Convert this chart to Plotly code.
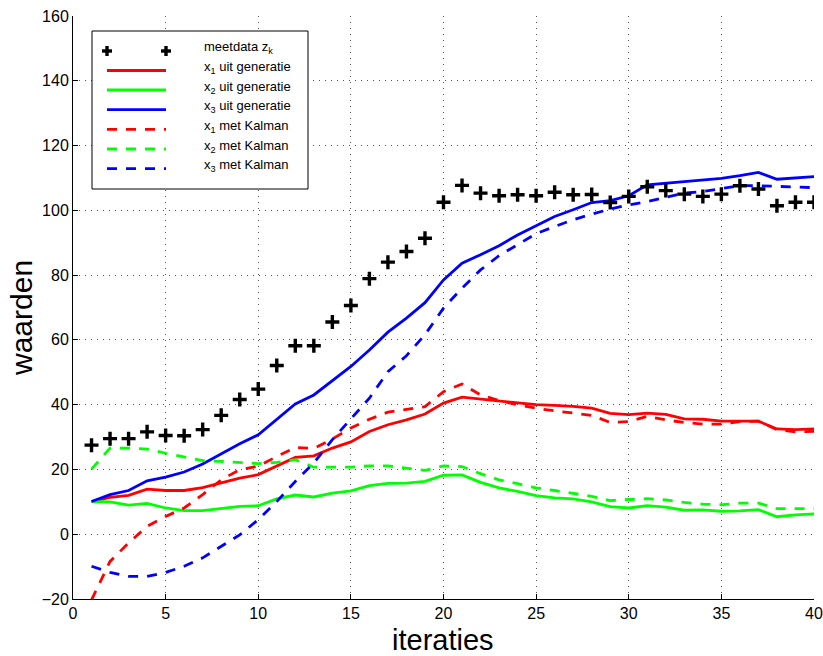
import plotly.graph_objects as go

# iteration index
iters = list(range(1, 41))

# measured data z_k
meetdata = [27.5, 29.5, 29.5, 31.6, 30.5, 30.4, 32.3, 36.7, 41.6, 44.8,
            52.1, 58.2, 58.2, 65.5, 70.6, 78.9, 84.0, 87.3, 91.4, 102.5,
            107.7, 105.3, 104.5, 104.8, 104.5, 105.6, 104.8, 104.9, 102.4, 104.3,
            107.3, 106.1, 105.0, 104.3, 105.0, 107.6, 106.6, 101.4, 102.5, 102.5]

# generated states
x1_gen = [10.1, 11.4, 12.0, 13.9, 13.5, 13.5, 14.4, 15.8, 17.3, 18.4,
          21.1, 23.7, 24.2, 26.6, 28.5, 31.7, 33.8, 35.3, 37.1, 40.5,
          42.3, 41.7, 41.1, 40.7, 40.0, 39.8, 39.5, 38.9, 37.3, 36.9,
          37.4, 37.0, 35.6, 35.5, 34.9, 34.9, 34.9, 32.5, 32.3, 32.5]
x2_gen = [10.1, 10.0, 9.0, 9.5, 8.1, 7.3, 7.3, 7.9, 8.6, 8.8,
          10.9, 12.1, 11.5, 12.7, 13.4, 15.0, 15.7, 15.8, 16.3, 18.2,
          18.3, 16.0, 14.3, 13.2, 11.9, 11.2, 10.9, 10.0, 8.5, 8.1,
          8.8, 8.4, 7.4, 7.5, 7.1, 7.2, 7.6, 5.4, 6.0, 6.3]
x3_gen = [10.1, 12.2, 13.5, 16.5, 17.6, 19.2, 21.7, 24.8, 27.9, 30.7,
          35.3, 40.2, 43.0, 47.5, 51.8, 56.9, 62.4, 66.7, 71.5, 78.5,
          83.7, 86.3, 89.1, 92.4, 95.2, 98.1, 100.2, 102.4, 103.0, 104.5,
          107.9, 108.4, 108.7, 109.4, 109.9, 110.7, 111.7, 109.6, 110.1, 110.4]

# Kalman filter estimates
x1_kal = [-20.3, -8.4, -2.7, 2.4, 5.5, 8.1, 12.2, 16.8, 19.9, 21.0,
          24.0, 26.8, 26.5, 29.4, 32.8, 35.5, 37.7, 38.6, 39.4, 44.0,
          46.4, 43.0, 41.3, 40.0, 38.9, 38.1, 37.4, 36.7, 34.5, 34.8,
          36.4, 35.3, 34.5, 34.0, 34.0, 34.8, 34.9, 32.3, 31.6, 31.8]
x2_kal = [20.1, 26.6, 26.6, 26.3, 25.0, 23.8, 22.7, 22.5, 22.2, 21.8,
          22.2, 23.0, 20.7, 20.6, 20.7, 21.1, 21.1, 20.4, 19.7, 21.1,
          20.9, 18.7, 16.8, 15.6, 14.3, 13.5, 12.5, 11.7, 10.4, 10.6,
          11.0, 10.6, 9.8, 9.3, 9.1, 9.6, 9.6, 7.9, 7.9, 7.9]
x3_kal = [-9.9, -11.8, -13.0, -13.0, -11.8, -9.9, -7.3, -3.8, -0.2, 4.5,
          10.1, 16.3, 22.0, 29.2, 35.5, 42.0, 50.2, 55.1, 61.6, 69.8,
          76.0, 81.6, 86.0, 89.4, 92.8, 95.0, 97.1, 98.8, 100.4, 101.7,
          102.7, 104.0, 105.3, 105.8, 106.6, 107.6, 107.6, 107.3, 107.2, 107.0]

x_ticks = [0, 5, 10, 15, 20, 25, 30, 35, 40]
y_ticks = [-20, 0, 20, 40, 60, 80, 100, 120, 140, 160]

labels = ["meetdata z<sub>k</sub>",
          "x<sub>1</sub> uit generatie",
          "x<sub>2</sub> uit generatie",
          "x<sub>3</sub> uit generatie",
          "x<sub>1</sub> met Kalman",
          "x<sub>2</sub> met Kalman",
          "x<sub>3</sub> met Kalman"]

RED, GREEN, BLUE = "#ff0000", "#00ff00", "#0000ff"
DASH = "10px,9px"
FONT = "Liberation Sans, Arial, Helvetica, sans-serif"
LW = 2.8

W, H = 823, 656
ML, MR, MT, MB = 73, 9, 16, 57
PW, PH = W - ML - MR, H - MT - MB


def px(xp):
    return (xp - ML) / PW


def py(yp):
    return (H - MB - yp) / PH


line_series = [
    (x1_gen, RED, "solid"),
    (x2_gen, GREEN, "solid"),
    (x3_gen, BLUE, "solid"),
    (x1_kal, RED, DASH),
    (x2_kal, GREEN, DASH),
    (x3_kal, BLUE, DASH),
]

fig = go.Figure()
for vals, col, dash in line_series:
    fig.add_trace(go.Scatter(x=iters, y=vals, mode="lines",
                             line=dict(color=col, width=LW, dash=dash),
                             showlegend=False, hoverinfo="skip"))

fig.add_trace(go.Scatter(x=iters, y=meetdata, mode="markers",
                         marker=dict(symbol="cross-thin", size=10,
                                     line=dict(color="black", width=3.4)),
                         showlegend=False, hoverinfo="skip"))

# legend box drawn as shapes + text
shapes = [dict(type="rect", xref="paper", yref="paper",
               x0=px(92), x1=px(308), y0=py(189), y1=py(31),
               line=dict(color="black", width=1), fillcolor="white",
               layer="above")]
annotations = []
row_y = [51, 70.5, 90, 109.7, 129.3, 149, 168.7]
sx0, sx1 = 107, 166
# marker sample (two crosses)
for cx in (sx0, sx1):
    cy = row_y[0]
    shapes.append(dict(type="line", xref="paper", yref="paper",
                       x0=px(cx - 5), x1=px(cx + 5), y0=py(cy), y1=py(cy),
                       line=dict(color="black", width=3.4), layer="above"))
    shapes.append(dict(type="line", xref="paper", yref="paper",
                       x0=px(cx), x1=px(cx), y0=py(cy - 5), y1=py(cy + 5),
                       line=dict(color="black", width=3.4), layer="above"))
for (vals, col, dash), yy in zip(line_series, row_y[1:]):
    shapes.append(dict(type="line", xref="paper", yref="paper",
                       x0=px(sx0), x1=px(sx1), y0=py(yy), y1=py(yy),
                       line=dict(color=col, width=LW, dash=dash),
                       layer="above"))
for lab, yy in zip(labels, row_y):
    annotations.append(dict(text=lab, xref="paper", yref="paper",
                            x=px(202), y=py(yy - 3), xanchor="left",
                            yanchor="middle", showarrow=False,
                            font=dict(family=FONT, size=13, color="black")))

# axis titles
annotations.append(dict(text="iteraties", xref="paper", yref="paper",
                        x=px(443), y=py(640), xanchor="center", yanchor="middle",
                        showarrow=False,
                        font=dict(family=FONT, size=29, color="black")))
annotations.append(dict(text="waarden", xref="paper", yref="paper",
                        x=px(22), y=py(318), xanchor="center", yanchor="middle",
                        textangle=-90, showarrow=False,
                        font=dict(family=FONT, size=30, color="black")))

axis_common = dict(showline=True, linecolor="black", linewidth=1,
                   ticks="inside", ticklen=5, tickcolor="black", tickwidth=1,
                   showgrid=True, gridcolor="#555555", gridwidth=1,
                   griddash="1px,5px", zeroline=False, mirror=False,
                   automargin=False,
                   tickfont=dict(family=FONT, size=16, color="black"))

fig.update_layout(
    width=W, height=H,
    margin=dict(l=ML, r=MR, t=MT, b=MB, pad=0, autoexpand=False),
    paper_bgcolor="white", plot_bgcolor="white",
    xaxis=dict(range=[0, 40], tickvals=x_ticks, **axis_common),
    yaxis=dict(range=[-20, 160], tickvals=y_ticks, **axis_common),
    shapes=shapes, annotations=annotations,
    showlegend=False,
)

fig.write_html("out.html")
